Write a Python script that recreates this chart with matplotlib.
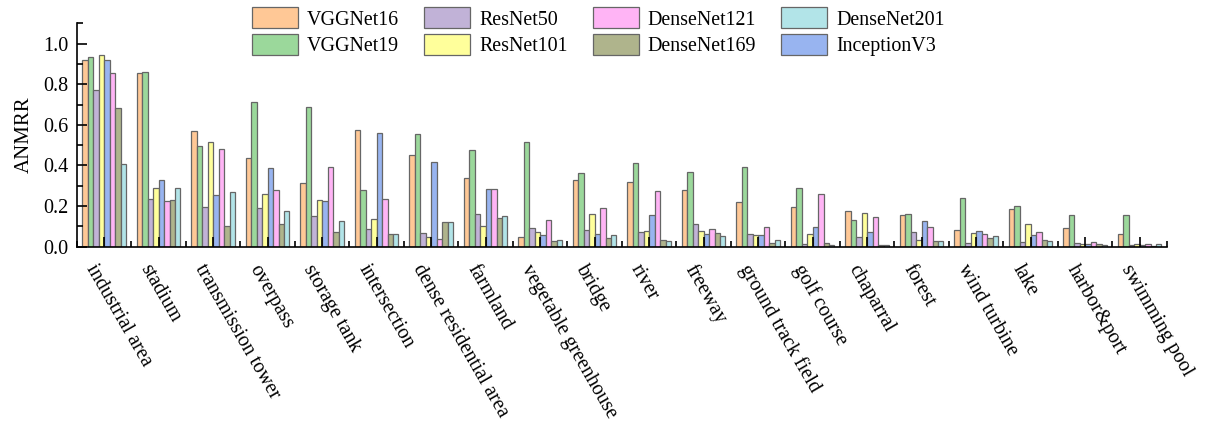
import matplotlib
matplotlib.use('Agg')
import matplotlib.pyplot as plt
import numpy as np
from matplotlib.ticker import MultipleLocator

plt.rcParams['font.family'] = ['Liberation Serif', 'DejaVu Serif']

categories = ["industrial area", "stadium", "transmission tower", "overpass",
              "storage tank", "intersection", "dense residential area", "farmland",
              "vegetable greenhouse", "bridge", "river", "freeway",
              "ground track field", "golf course", "chaparral", "forest",
              "wind turbine", "lake", "harbor&port", "swimming pool"]

vggnet16 = [0.922, 0.857, 0.571, 0.439, 0.314, 0.574, 0.452, 0.339, 0.047, 0.330,
            0.320, 0.277, 0.218, 0.195, 0.175, 0.155, 0.081, 0.187, 0.094, 0.061]
vggnet19 = [0.932, 0.862, 0.497, 0.711, 0.690, 0.279, 0.554, 0.477, 0.515, 0.363,
            0.413, 0.366, 0.395, 0.291, 0.131, 0.160, 0.238, 0.199, 0.157, 0.157]
resnet50 = [0.774, 0.235, 0.195, 0.190, 0.149, 0.086, 0.066, 0.163, 0.091, 0.081,
            0.073, 0.114, 0.061, 0.012, 0.047, 0.074, 0.018, 0.023, 0.018, 0.007]
resnet101 = [0.943, 0.287, 0.517, 0.259, 0.231, 0.136, 0.047, 0.104, 0.071, 0.160,
             0.078, 0.078, 0.058, 0.061, 0.165, 0.033, 0.066, 0.111, 0.015, 0.012]
inceptionv3 = [0.922, 0.327, 0.257, 0.390, 0.225, 0.560, 0.416, 0.284, 0.058, 0.061,
               0.158, 0.061, 0.058, 0.096, 0.073, 0.127, 0.076, 0.056, 0.015, 0.007]
densenet121 = [0.858, 0.223, 0.482, 0.281, 0.393, 0.233, 0.040, 0.284, 0.131, 0.190,
               0.274, 0.088, 0.099, 0.262, 0.146, 0.099, 0.064, 0.071, 0.023, 0.012]
densenet169 = [0.685, 0.230, 0.101, 0.112, 0.073, 0.061, 0.124, 0.142, 0.027, 0.043,
               0.033, 0.066, 0.018, 0.018, 0.008, 0.028, 0.042, 0.032, 0.015, 0.005]
densenet201 = [0.406, 0.289, 0.269, 0.175, 0.129, 0.061, 0.124, 0.153, 0.032, 0.059,
               0.027, 0.054, 0.032, 0.007, 0.007, 0.028, 0.053, 0.027, 0.007, 0.012]

# bar order inside each group
series = [
    ("VGGNet16", vggnet16, "#FFC896"),
    ("VGGNet19", vggnet19, "#9BD89B"),
    ("ResNet50", resnet50, "#C1B2D7"),
    ("ResNet101", resnet101, "#FFFF9B"),
    ("InceptionV3", inceptionv3, "#98B4F0"),
    ("DenseNet121", densenet121, "#FFB4F5"),
    ("DenseNet169", densenet169, "#AFB48C"),
    ("DenseNet201", densenet201, "#B2E4E8"),
]
legend_order = ["VGGNet16", "VGGNet19", "ResNet50", "ResNet101",
                "DenseNet121", "DenseNet169", "DenseNet201", "InceptionV3"]

fig = plt.figure(figsize=(12.08, 4.25), dpi=100)
ax = fig.add_axes([0.0637, 0.4195, 0.9023, 0.5255])

x = np.arange(len(categories))
w = 0.1
handles = {}
for i, (name, vals, color) in enumerate(series):
    bars = ax.bar(x + (i - 3.5) * w, vals, width=w, color=color,
                  edgecolor="#666666", linewidth=0.9, label=name)
    handles[name] = bars

ax.set_xlim(-0.5, len(categories) - 0.5)
ax.set_ylim(0, 1.1)
ax.yaxis.set_minor_locator(MultipleLocator(0.1))
ax.set_yticks([0, 0.2, 0.4, 0.6, 0.8, 1.0])
ax.set_yticklabels(["0.0", "0.2", "0.4", "0.6", "0.8", "1.0"])
ax.set_xticks(x)
ax.set_xticks(np.arange(len(categories) + 1) - 0.5, minor=True)
ax.set_xticklabels([])

# slanted category names, placed with an offset below each group centre
for xi, name in zip(x, categories):
    ax.annotate(name, xy=(xi, 0), xycoords=ax.get_xaxis_transform(),
                xytext=(-4.5, -10.5), textcoords="offset points",
                rotation=-60, ha="left", va="top", rotation_mode="anchor",
                fontsize=14.5, annotation_clip=False)

ax.tick_params(axis="both", which="major", direction="in", length=7, width=1.2,
               labelsize=14.5, color="black")
ax.tick_params(axis="both", which="minor", direction="in", length=4, width=1.2)
ax.tick_params(axis="y", pad=6)

for s in ["top", "right"]:
    ax.spines[s].set_visible(False)
for s in ["left", "bottom"]:
    ax.spines[s].set_linewidth(1.2)

ax.set_ylabel("ANMRR", fontsize=15, labelpad=7)

fig.legend([handles[n] for n in legend_order], legend_order, ncol=4,
           loc="upper left", bbox_to_anchor=(0.2086, 0.983), frameon=False,
           fontsize=14.4, handlelength=2.3, handleheight=1.25,
           handletextpad=0.45, columnspacing=1.25, labelspacing=0.22,
           borderpad=0, borderaxespad=0)

fig.savefig("out.png", dpi=100)
